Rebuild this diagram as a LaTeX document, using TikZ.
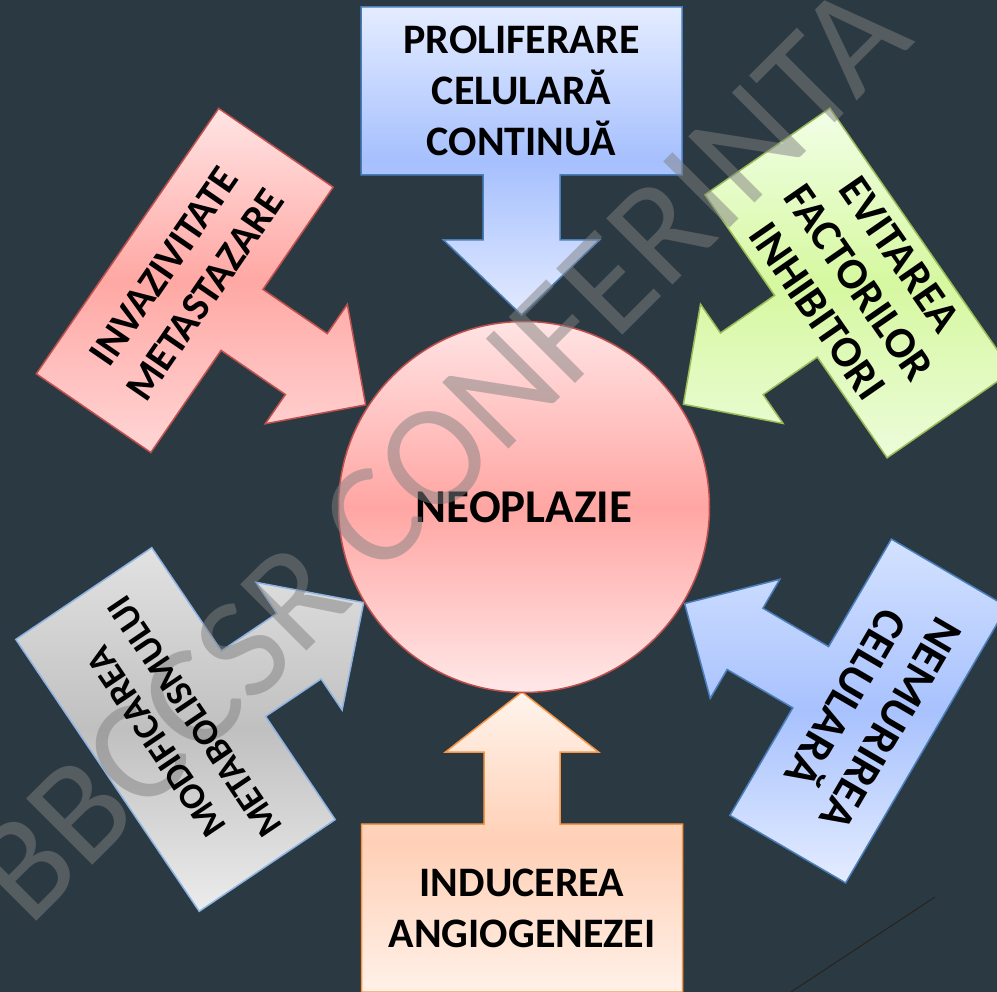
\documentclass[tikz,border=0pt]{standalone}
\usepackage{fontspec}
\setmainfont{Carlito}
\definecolor{bgcol}{RGB}{43,58,66}
\definecolor{prolifTop}{RGB}{228,236,255}
\definecolor{prolifMid}{RGB}{166,192,254}
\definecolor{prolifBot}{RGB}{226,234,255}
\definecolor{prolifLine}{RGB}{74,126,187}
\definecolor{angioTop}{RGB}{255,244,236}
\definecolor{angioMid}{RGB}{255,208,182}
\definecolor{angioBot}{RGB}{255,241,232}
\definecolor{angioLine}{RGB}{247,150,70}
\definecolor{invazTop}{RGB}{255,228,228}
\definecolor{invazMid}{RGB}{255,168,164}
\definecolor{invazBot}{RGB}{255,214,214}
\definecolor{invazLine}{RGB}{192,80,77}
\definecolor{evitTop}{RGB}{242,255,232}
\definecolor{evitMid}{RGB}{214,248,160}
\definecolor{evitBot}{RGB}{236,252,218}
\definecolor{evitLine}{RGB}{155,187,89}
\definecolor{metabTop}{RGB}{226,226,226}
\definecolor{metabMid}{RGB}{192,192,192}
\definecolor{metabBot}{RGB}{236,236,236}
\definecolor{metabLine}{RGB}{141,179,226}
\definecolor{nemurTop}{RGB}{212,226,255}
\definecolor{nemurMid}{RGB}{168,194,254}
\definecolor{nemurBot}{RGB}{228,236,255}
\definecolor{nemurLine}{RGB}{74,126,187}
\definecolor{neoTop}{RGB}{255,228,228}
\definecolor{neoMid}{RGB}{255,166,163}
\definecolor{neoBot}{RGB}{255,232,232}
\definecolor{neoLine}{RGB}{192,80,77}
\begin{document}
\begin{tikzpicture}[
  x=1pt, y=-1pt,
  lbl/.style 2 args={font=\bfseries\fontsize{#1}{#2}\selectfont, align=center, text=black, inner sep=0pt},
  callout/.style={line width=1.5pt, line join=miter},
  wmark/.style={font=\fontsize{146}{146}\selectfont, text=gray, text opacity=0.5, inner sep=0pt}
]
\useasboundingbox (0,0) rectangle (997,992);
\clip (0,0) rectangle (997,992);
\fill[bgcol] (0,0) rectangle (997,992);

% name / centre / rotation / box / arrow / head / shaft
\foreach \nm/\cx/\cy/\rot/\bw/\bh/\al/\hd/\hw/\sw in {
    prolif/521.5/91/0/321/168/140/75/156/77,
    angio/522/908/180/321/168/132/60/153/76,
    invaz/184.75/280.5/55.5/322/139/150/72/145/74,
    evit/858.5/283/-55.3/320/152/137/71/145/75,
    metab/175.5/729.5/124/328/164/145/78/154/79,
    nemur/868.5/711/-120.3/320/134/146/70/138/71}
{
  \begin{scope}[shift={(\cx,\cy)}, rotate=\rot]
    \coordinate (\nm-c) at (0,0);
    \coordinate (\nm-1) at ({-\bw/2},{-\bh/2});
    \coordinate (\nm-2) at ({\bw/2},{-\bh/2});
    \coordinate (\nm-3) at ({\bw/2},{\bh/2});
    \coordinate (\nm-4) at ({\sw/2},{\bh/2});
    \coordinate (\nm-5) at ({\sw/2},{\bh/2+\al-\hd});
    \coordinate (\nm-6) at ({\hw/2},{\bh/2+\al-\hd});
    \coordinate (\nm-7) at (0,{\bh/2+\al});
    \coordinate (\nm-8) at ({-\hw/2},{\bh/2+\al-\hd});
    \coordinate (\nm-9) at ({-\sw/2},{\bh/2+\al-\hd});
    \coordinate (\nm-10) at ({-\sw/2},{\bh/2});
    \coordinate (\nm-11) at ({-\bw/2},{\bh/2});
  \end{scope}
  \shade[callout, draw=\nm Line, top color=\nm Top, bottom color=\nm Bot, middle color=\nm Mid]
    (\nm-1) -- (\nm-2) -- (\nm-3) -- (\nm-4) -- (\nm-5) -- (\nm-6) -- (\nm-7)
    -- (\nm-8) -- (\nm-9) -- (\nm-10) -- (\nm-11) -- cycle;
}

\node[circle, draw=neoLine, line width=1.5pt, minimum size=371pt, inner sep=0pt,
  top color=neoTop, bottom color=neoBot, middle color=neoMid,
  font=\bfseries\fontsize{47}{55}\selectfont] (neo) at (524,507) {NEOPLAZIE};

\node[wmark, rotate=45] (wm) at (440,452) {BBCCSR CONFERINTA};

\node[lbl={42}{51}] (prolif) at (prolif-c) {PROLIFERARE\\CELULARĂ\\CONTINUĂ};
\node[lbl={42}{51}] (angio) at (angio-c) {INDUCEREA\\ANGIOGENEZEI};
\node[lbl={41}{50}, rotate=55.5] (invaz) at (invaz-c) {INVAZIVITATE\\METASTAZARE};
\node[lbl={44}{50}, rotate=-55.3] (evit) at (evit-c) {EVITAREA\\FACTORILOR\\INHIBITORI};
\node[lbl={37}{46}, rotate=124] (metab) at (metab-c) {MODIFICAREA\\METABOLISMULUI};
\node[lbl={46}{52}, rotate=-120.3] (nemur) at (nemur-c) {NEMURIREA\\CELULARĂ};

\coordinate (ln-a) at (791,992);
\coordinate (ln-b) at (935,897);
\draw[line width=1.2pt, black!85] (ln-a) -- (ln-b);
\end{tikzpicture}
\end{document}
